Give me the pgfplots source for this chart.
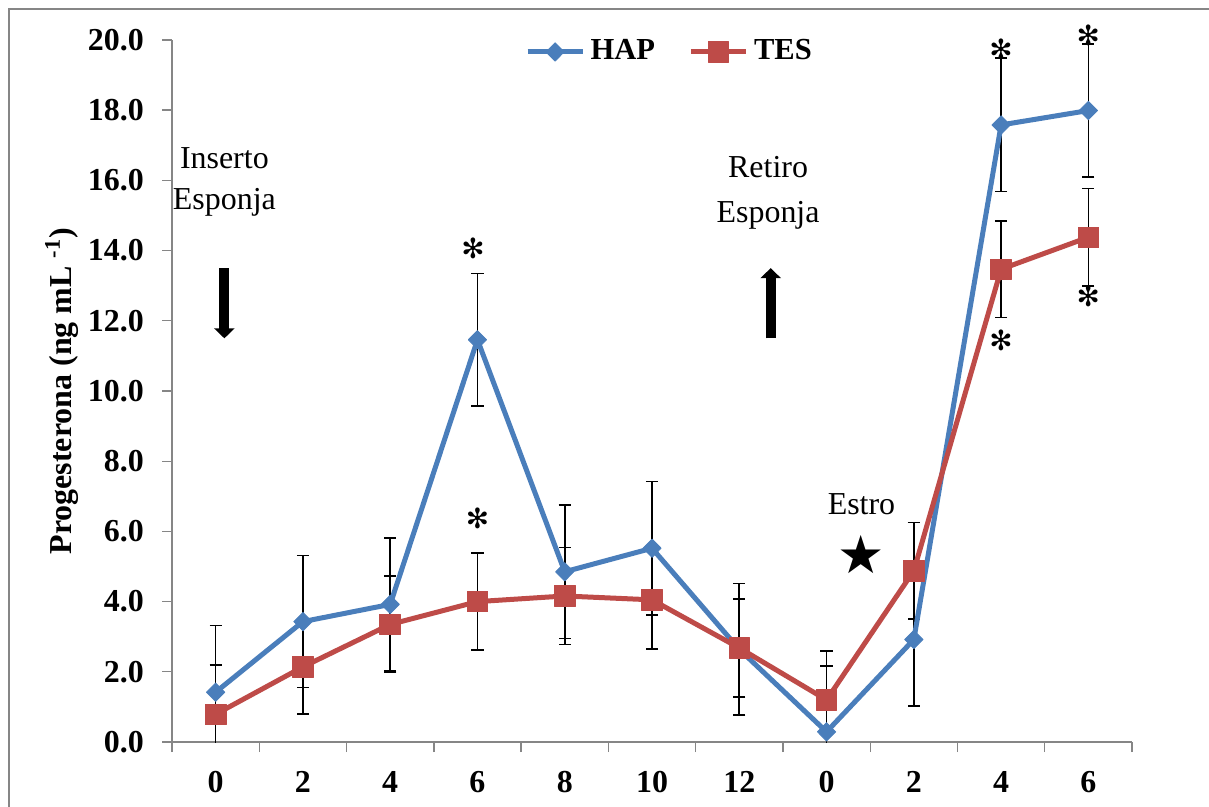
\documentclass[border=0pt]{standalone}
\usepackage{pgfplots}
\pgfplotsset{compat=1.18}
\usepackage{fontspec}
\setmainfont{Liberation Serif}
\newfontfamily\symfont{DejaVu Sans}
\usetikzlibrary{arrows.meta}
\definecolor{hapblue}{HTML}{4A7EBB}
\definecolor{tesred}{HTML}{BE4B48}
\definecolor{axgray}{HTML}{868686}

\begin{document}
\fontsize{11.5}{13.8}\selectfont
\begin{tikzpicture}[font=\fontsize{11.5}{13.8}\selectfont]
% picture is 1209x807 px, 1 px = 0.36pt, origin top left
\useasboundingbox (0,0) rectangle (435.24pt,-290.52pt);
\draw[axgray, line width=0.6pt] (3.24pt,-290.52pt) -- (3.24pt,-3.24pt) -- (435.24pt,-3.24pt);
\begin{axis}[
  at={(61.92pt,-267.12pt)}, anchor=south west,
  scale only axis, width=345.6pt, height=252.72pt,
  xmin=-0.5, xmax=10.5, ymin=0, ymax=20,
  axis x line*=bottom, axis y line*=left,
  axis line style={axgray, line width=0.5pt},
  xtick={0,...,10},
  xticklabels={0,2,4,6,8,10,12,0,2,4,6},
  major x tick style={draw=none},
  minor xtick={-0.5,0.5,...,10.5},
  minor x tick style={axgray, line width=0.5pt},
  ytick={0,2,...,20},
  yticklabels={0.0,2.0,4.0,6.0,8.0,10.0,12.0,14.0,16.0,18.0,20.0},
  y tick style={axgray, line width=0.5pt},
  tick align=outside, major tick length=3.6pt, minor tick length=3.6pt,
  ticklabel style={font=\fontsize{11.5}{13.8}\selectfont\bfseries},
  yticklabel style={xshift=-2.5pt},
  xticklabel style={yshift=-3pt},
  every axis y label/.style={at={(axis description cs:-0.1146,0.5)}, rotate=90, anchor=center,
    font=\fontsize{11.5}{13.8}\selectfont\bfseries},
  ylabel={Progesterona (ng mL \textsuperscript{-1})},
  clip mode=individual,
  legend style={at={(axis cs:5.22,19.66)}, anchor=center, draw=none, fill=none,
    legend columns=2, font=\fontsize{11}{13}\selectfont\bfseries, inner sep=0pt,
    /tikz/every even column/.append style={column sep=10pt}},
  legend image code/.code={\draw[mark repeat=2,mark phase=2,#1] plot coordinates {(0pt,0pt) (9.9pt,0pt) (19.8pt,0pt)};},
]

% error bars first, under the lines
\addplot[forget plot, draw=none, mark=none,
  error bars/.cd, y dir=both, y explicit,
  error bar style={draw=black, line width=0.6pt},
  error mark options={rotate=90, mark size=2.2pt, line width=0.6pt, draw=black}
] coordinates {
  (0,1.42) +- (0,1.90)
  (1,3.43) +- (0,1.88)
  (2,3.92) +- (0,1.90)
  (3,11.46) +- (0,1.89)
  (4,4.85) +- (0,1.90)
  (5,5.52) +- (0,1.90)
  (6,2.64) +- (0,1.88)
  (7,0.29) +- (0,1.88)
  (8,2.92) +- (0,1.89)
  (9,17.58) +- (0,1.90)
  (10,17.99) +- (0,1.90)
};
\addplot[forget plot, draw=none, mark=none,
  error bars/.cd, y dir=both, y explicit,
  error bar style={draw=black, line width=0.6pt},
  error mark options={rotate=90, mark size=2.2pt, line width=0.6pt, draw=black}
] coordinates {
  (0,0.79) +- (0,1.40)
  (1,2.14) +- (0,1.35)
  (2,3.35) +- (0,1.37)
  (3,4.00) +- (0,1.38)
  (4,4.16) +- (0,1.38)
  (5,4.05) +- (0,1.40)
  (6,2.68) +- (0,1.39)
  (7,1.20) +- (0,1.40)
  (8,4.88) +- (0,1.37)
  (9,13.47) +- (0,1.38)
  (10,14.38) +- (0,1.39)
};

\addplot[hapblue, line width=1.8pt, line join=round,
  mark=diamond*, mark size=3.3pt,
  mark options={solid, xscale=1.33, line width=0.3pt}
] coordinates {
  (0,1.42) (1,3.43) (2,3.92) (3,11.46) (4,4.85) (5,5.52)
  (6,2.64) (7,0.29) (8,2.92) (9,17.58) (10,17.99)
};
\addlegendentry{HAP}

\addplot[tesred, line width=1.8pt, line join=round,
  mark=square*, mark size=3.7pt,
  mark options={solid, line width=0.3pt}
] coordinates {
  (0,0.79) (1,2.14) (2,3.35) (3,4.00) (4,4.16) (5,4.05)
  (6,2.68) (7,1.20) (8,4.88) (9,13.47) (10,14.38)
};
\addlegendentry{TES}

% annotations
\node[anchor=base] at (axis cs:0.10,16.35) {Inserto};
\node[anchor=base] at (axis cs:0.10,15.16) {Esponja};
\node[anchor=base] at (axis cs:6.33,16.07) {Retiro};
\node[anchor=base] at (axis cs:6.33,14.81) {Esponja};
\node[anchor=base] at (axis cs:7.40,6.47) {Estro};
\node at (axis cs:7.40,5.33) {\symfont\fontsize{19}{19}\selectfont ★};
\draw[line width=3.6pt, -{Triangle[width=7.2pt,length=3.6pt]}]
  (axis cs:0.10,13.5) -- (axis cs:0.10,11.5);
\draw[line width=3.6pt, -{Triangle[width=7.2pt,length=3.6pt]}]
  (axis cs:6.36,11.5) -- (axis cs:6.36,13.5);
\node at (axis cs:2.95,14.05) {\symfont\fontsize{10}{10}\selectfont ✻};
\node at (axis cs:3.00,6.38) {\symfont\fontsize{10}{10}\selectfont ✻};
\node at (axis cs:9.00,19.72) {\symfont\fontsize{10}{10}\selectfont ✻};
\node at (axis cs:10.00,20.14) {\symfont\fontsize{10}{10}\selectfont ✻};
\node at (axis cs:10.00,12.69) {\symfont\fontsize{10}{10}\selectfont ✻};
\node at (axis cs:9.00,11.43) {\symfont\fontsize{10}{10}\selectfont ✻};
\end{axis}
\end{tikzpicture}
\end{document}
